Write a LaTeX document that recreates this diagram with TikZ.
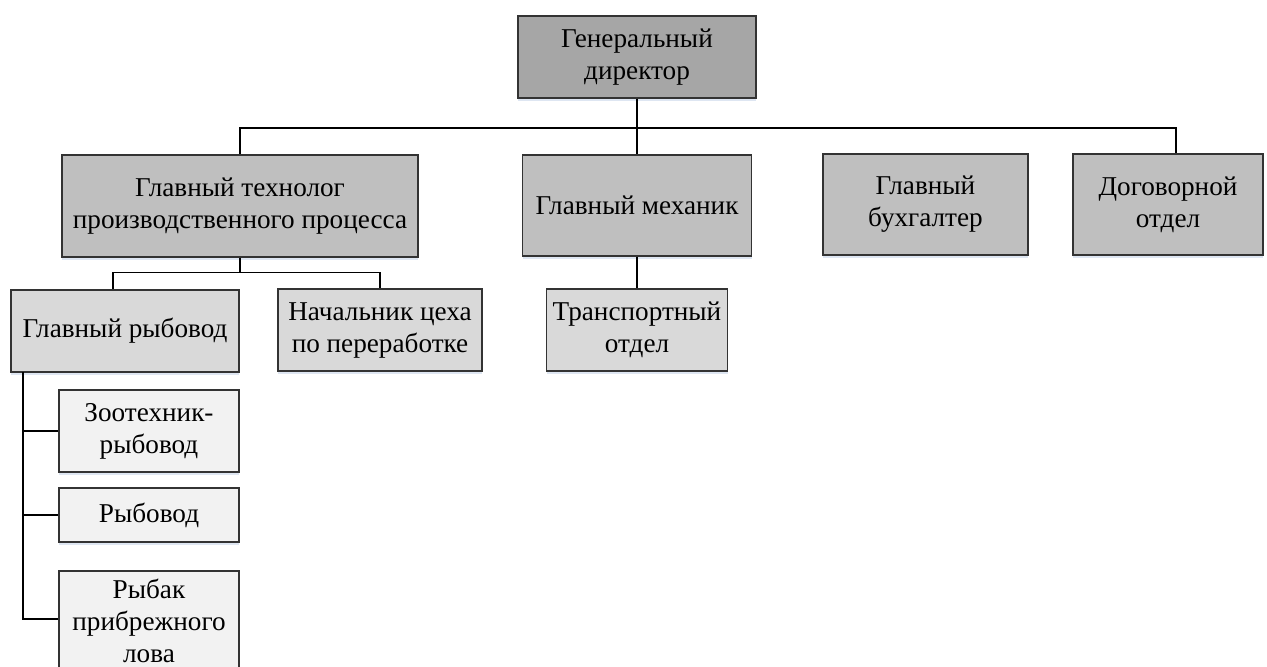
\documentclass[tikz,border=0pt]{standalone}
\usepackage{fontspec}
\setmainfont{LiberationSerif}[Extension=.ttf,UprightFont=*-Regular,BoldFont=*-Bold]
\usetikzlibrary{shadows}
\definecolor{topgray}{RGB}{166,166,166}
\definecolor{headgray}{RGB}{191,191,191}
\definecolor{subgray}{RGB}{217,217,217}
\definecolor{staffgray}{RGB}{242,242,242}
\definecolor{shadowblue}{RGB}{190,205,230}

\begin{document}
\begin{tikzpicture}[x=0.5pt,y=-0.5pt,
    orgbox/.style={draw=black!80,line width=0.7pt,align=center,inner sep=0pt,
      font=\fontsize{13.6}{16}\selectfont,
      drop shadow={shadow xshift=0pt,shadow yshift=-1.5pt,opacity=.5,fill=shadowblue}},
    link/.style={draw=black,line width=0.6pt}]
          \useasboundingbox (0,0) rectangle (1267,666);
          % top
          \node[orgbox,fill=topgray,minimum width=119pt,minimum height=41pt] (dir) at (637,57) {Генеральный\\директор};
          % heads
          \node[orgbox,fill=headgray,minimum width=178pt,minimum height=51pt] (tech) at (240,206) {Главный технолог\\производственного процесса};
          \node[orgbox,fill=headgray,minimum width=114.5pt,minimum height=50.5pt] (mech) at (637,205.5) {Главный механик};
          \node[orgbox,fill=headgray,minimum width=102.5pt,minimum height=50.5pt] (buh) at (925.5,204.5) {Главный\\бухгалтер};
          \node[orgbox,fill=headgray,minimum width=95pt,minimum height=50.5pt] (dog) at (1168,204.5) {Договорной\\отдел};
          % second level
          \node[orgbox,fill=subgray,minimum width=114pt,minimum height=41pt] (ryb) at (125,331) {Главный рыбовод};
          \node[orgbox,fill=subgray,minimum width=102pt,minimum height=41pt] (nach) at (380,330) {Начальник цеха\\по переработке};
          \node[orgbox,fill=subgray,minimum width=90.5pt,minimum height=41pt] (trans) at (637,330) {Транспортный\\отдел};
          % staff
          \node[orgbox,fill=staffgray,minimum width=90pt,minimum height=41pt] (zoo) at (149,431) {Зоотехник-\\рыбовод};
          \node[orgbox,fill=staffgray,minimum width=90pt,minimum height=27pt] (rybovod) at (149,515) {Рыбовод};
          \node[orgbox,fill=staffgray,minimum width=90pt,minimum height=50pt] (rybak) at (149,621) {Рыбак\\прибрежного\\лова};
          \coordinate (bus) at (637,128);
          \coordinate (trunk) at (23,372);
          % links
          \draw[link] (dir.south) -- (mech.north);
          \draw[link] (tech.north) -- (tech.north |- bus) -| ([xshift=4pt]dog.north);
          \draw[link] (mech.south) -- (trans.north);
          \draw[link] (tech.south) -- ++(0,15) -| ([xshift=-6pt]ryb.north);
          \draw[link] (tech.south) -- ++(0,15) -| (nach.north);
          \draw[link] (trunk) |- (zoo.west);
          \draw[link] (trunk) |- (rybovod.west);
          \draw[link] (trunk) |- ([yshift=1pt]rybak.west);
        \end{tikzpicture}
\end{document}
